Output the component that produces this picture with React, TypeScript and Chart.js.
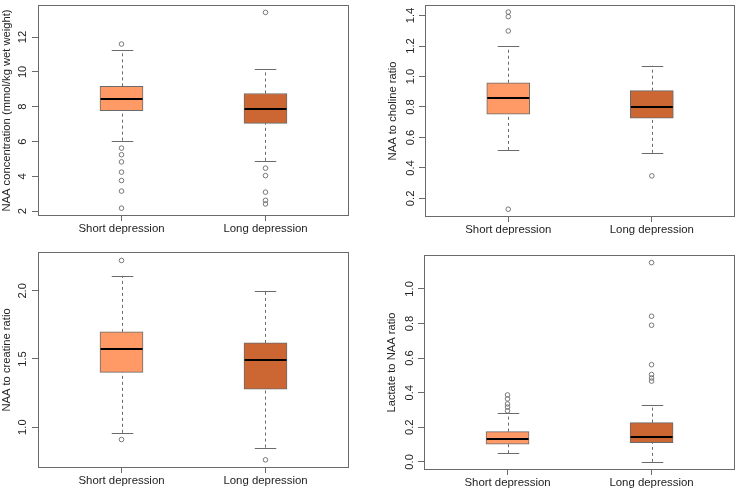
import React, { useEffect, useRef } from 'react';
import { Chart, registerables } from 'chart.js';

Chart.register(...registerables);

// ---------- DATA ----------
const categories = ['Short depression', 'Long depression'];

// five-number summaries: [lower whisker, Q1, median, Q3, upper whisker]
const naaConcShort = [6.05, 7.77, 8.45, 9.17, 11.26];
const naaConcLong = [4.89, 7.04, 7.89, 8.76, 10.15];
const naaConcShortOutliers = [11.6, 5.62, 5.24, 4.83, 4.24, 3.76, 3.15, 2.17];
const naaConcLongOutliers = [13.42, 4.47, 4.04, 3.09, 2.62, 2.41];
const naaConcTicks = [2, 4, 6, 8, 10, 12];

const cholShort = [0.518, 0.753, 0.858, 0.959, 1.2];
const cholLong = [0.499, 0.727, 0.8, 0.907, 1.071];
const cholShortOutliers = [1.423, 1.393, 1.299, 0.129];
const cholLongOutliers = [0.348];
const cholTicks = [0.2, 0.4, 0.6, 0.8, 1.0, 1.2, 1.4];

const creShort = [0.958, 1.402, 1.571, 1.699, 2.11];
const creLong = [0.85, 1.279, 1.49, 1.618, 2.0];
const creShortOutliers = [2.223, 0.909];
const creLongOutliers = [0.76];
const creTicks = [1.0, 1.5, 2.0];

const lacShort = [0.05, 0.102, 0.133, 0.175, 0.281];
const lacLong = [0.0, 0.111, 0.146, 0.227, 0.331];
const lacShortOutliers = [0.387, 0.364, 0.335, 0.317, 0.295];
const lacLongOutliers = [1.152, 0.842, 0.79, 0.562, 0.505, 0.485, 0.467];
const lacTicks = [0.0, 0.2, 0.4, 0.6, 0.8, 1.0];

// ---------- STYLE ----------
const FONT = '"Liberation Sans", Arial, Helvetica, sans-serif';
const FONT_SIZE = 11.2;
const LABEL_SIZE = 11.4;
const TEXT = '#222';
const LINE = '#6a6a6a';
const FILL_SHORT = '#FF9966';
const FILL_LONG = '#CC6633';
const W = 370;
const H = 245;

type Spec = {
  title: string;
  shortBox: number[];
  longBox: number[];
  shortOut: number[];
  longOut: number[];
  ticks: number[];
  decimals: number;
  yMin: number;
  yMax: number;
  left: number;
  top: number;
  padL: number;
  plotL: number;
  plotR: number;
  plotT: number;
  plotB: number;
  tickPad: number;
};

const specs: Spec[] = [
  {
    title: 'NAA concentration (mmol/kg wet weight)',
    shortBox: naaConcShort, longBox: naaConcLong,
    shortOut: naaConcShortOutliers, longOut: naaConcLongOutliers,
    ticks: naaConcTicks, decimals: 0, yMin: 1.72, yMax: 13.85,
    left: 0, top: 0, padL: 0, plotL: 38, plotR: 349, plotT: 2, plotB: 216, tickPad: 2.5,
  },
  {
    title: 'NAA to choline ratio',
    shortBox: cholShort, longBox: cholLong,
    shortOut: cholShortOutliers, longOut: cholLongOutliers,
    ticks: cholTicks, decimals: 1, yMin: 0.078, yMax: 1.47,
    left: 370, top: 0, padL: 16, plotL: 55, plotR: 368, plotT: 2, plotB: 217, tickPad: 0.5,
  },
  {
    title: 'NAA to creatine ratio',
    shortBox: creShort, longBox: creLong,
    shortOut: creShortOutliers, longOut: creLongOutliers,
    ticks: creTicks, decimals: 1, yMin: 0.70, yMax: 2.285,
    left: 0, top: 245, padL: 0, plotL: 38, plotR: 349, plotT: 7, plotB: 223, tickPad: 1.5,
  },
  {
    title: 'Lactate to NAA ratio',
    shortBox: lacShort, longBox: lacLong,
    shortOut: lacShortOutliers, longOut: lacLongOutliers,
    ticks: lacTicks, decimals: 1, yMin: -0.047, yMax: 1.196,
    left: 370, top: 245, padL: 15, plotL: 54, plotR: 367, plotT: 10, plotB: 225, tickPad: 0,
  },
];

function boxPartsPlugin(boxes: number[][]) {
  return {
    id: 'boxParts',
    beforeDatasetsDraw(chart: any) {
      const { ctx } = chart;
      const x = chart.scales.x;
      const y = chart.scales.y;
      const meta = chart.getDatasetMeta(0);
      ctx.save();
      ctx.strokeStyle = LINE;
      ctx.lineWidth = 1;
      boxes.forEach((b, i) => {
        const cx = Math.round(x.getPixelForValue(i + 1)) + 0.5;
        const bw = meta.data[i] ? meta.data[i].width : 43;
        // whiskers (dashed)
        ctx.setLineDash([3, 3]);
        ctx.beginPath();
        ctx.moveTo(cx, y.getPixelForValue(b[0]));
        ctx.lineTo(cx, y.getPixelForValue(b[1]));
        ctx.moveTo(cx, y.getPixelForValue(b[3]));
        ctx.lineTo(cx, y.getPixelForValue(b[4]));
        ctx.stroke();
        // caps
        ctx.setLineDash([]);
        const hw = bw / 4;
        ctx.beginPath();
        const yl = Math.round(y.getPixelForValue(b[0])) + 0.5;
        const yh = Math.round(y.getPixelForValue(b[4])) + 0.5;
        ctx.moveTo(cx - hw, yl);
        ctx.lineTo(cx + hw, yl);
        ctx.moveTo(cx - hw, yh);
        ctx.lineTo(cx + hw, yh);
        ctx.stroke();
      });
      ctx.restore();
    },
    afterDatasetsDraw(chart: any) {
      const { ctx, chartArea } = chart;
      const y = chart.scales.y;
      const meta = chart.getDatasetMeta(0);
      ctx.save();
      boxes.forEach((b, i) => {
        const el = meta.data[i];
        if (!el) return;
        const ym = Math.round(y.getPixelForValue(b[2]));
        ctx.strokeStyle = '#000';
        ctx.lineWidth = 2;
        ctx.beginPath();
        ctx.moveTo(el.x - el.width / 2 + 0.5, ym);
        ctx.lineTo(el.x + el.width / 2 - 0.5, ym);
        ctx.stroke();
      });
      // plot frame
      ctx.strokeStyle = LINE;
      ctx.lineWidth = 1;
      ctx.strokeRect(
        Math.round(chartArea.left) + 0.5,
        Math.round(chartArea.top) + 0.5,
        Math.round(chartArea.right - chartArea.left) - 1,
        Math.round(chartArea.bottom - chartArea.top) - 1,
      );
      ctx.restore();
    },
  };
}

function Panel({ spec }: { spec: Spec }) {
  const ref = useRef<HTMLCanvasElement>(null);
  useEffect(() => {
    const font = { family: FONT, size: FONT_SIZE };
    const chart = new Chart(ref.current as HTMLCanvasElement, {
      type: 'bar',
      data: {
        datasets: [
          {
            type: 'bar',
            data: [
              { x: 1, y: [spec.shortBox[1], spec.shortBox[3]] },
              { x: 2, y: [spec.longBox[1], spec.longBox[3]] },
            ],
            backgroundColor: [FILL_SHORT, FILL_LONG],
            borderColor: LINE,
            borderWidth: 1,
            borderSkipped: false,
            barThickness: 43,
          } as any,
          {
            type: 'scatter',
            data: [
              ...spec.shortOut.map((v) => ({ x: 1, y: v })),
              ...spec.longOut.map((v) => ({ x: 2, y: v })),
            ],
            showLine: false,
            pointRadius: 2.3,
            pointBorderWidth: 0.9,
            pointBorderColor: LINE,
            pointBackgroundColor: 'rgba(0,0,0,0)',
          } as any,
        ],
      },
      options: {
        responsive: false,
        maintainAspectRatio: false,
        animation: false,
        layout: {
          padding: { left: spec.padL, top: spec.plotT, right: W - spec.plotR, bottom: 0 },
        },
        plugins: {
          legend: { display: false },
          tooltip: { enabled: false },
        },
        scales: {
          x: {
            type: 'linear',
            min: 0.42,
            max: 2.58,
            offset: false,
            afterBuildTicks: (s: any) => {
              s.ticks = [{ value: 1 }, { value: 2 }];
            },
            afterFit: (s: any) => {
              s.height = H - spec.plotB;
              s.paddingLeft = 0;
              s.paddingRight = 0;
            },
            ticks: {
              callback: (v: any) => categories[Number(v) - 1],
              font: { family: FONT, size: LABEL_SIZE },
              color: TEXT,
              padding: 1,
              maxRotation: 0,
              minRotation: 0,
              autoSkip: false,
            },
            grid: { drawOnChartArea: false, drawTicks: true, tickLength: 5, color: LINE, offset: false },
            border: { display: false },
          },
          y: {
            type: 'linear',
            min: spec.yMin,
            max: spec.yMax,
            afterBuildTicks: (s: any) => {
              s.ticks = spec.ticks.map((v) => ({ value: v }));
            },
            afterFit: (s: any) => {
              s.width = spec.plotL - spec.padL;
              s.paddingTop = 0;
              s.paddingBottom = 0;
            },
            ticks: {
              callback: (v: any) => Number(v).toFixed(spec.decimals),
              font,
              color: TEXT,
              minRotation: 90,
              maxRotation: 90,
              crossAlign: 'center',
              padding: spec.tickPad,
              autoSkip: false,
            },
            grid: { drawOnChartArea: false, drawTicks: true, tickLength: 6, color: LINE },
            border: { display: false },
            title: {
              display: true,
              text: spec.title,
              font: { family: FONT, size: FONT_SIZE, lineHeight: 1.2 },
              color: TEXT,
              padding: 0,
            },
          },
        },
      },
      plugins: [boxPartsPlugin([spec.shortBox, spec.longBox])],
    } as any);
    return () => chart.destroy();
  }, [spec]);
  return (
    <canvas
      ref={ref}
      width={W}
      height={H}
      style={{ position: 'absolute', left: spec.left, top: spec.top, width: W, height: H }}
    />
  );
}

export default function App() {
  return (
    <div style={{ position: 'absolute', left: 0, top: 0, width: 740, height: 490, background: '#fff' }}>
      {specs.map((s, i) => (
        <Panel key={i} spec={s} />
      ))}
    </div>
  );
}
